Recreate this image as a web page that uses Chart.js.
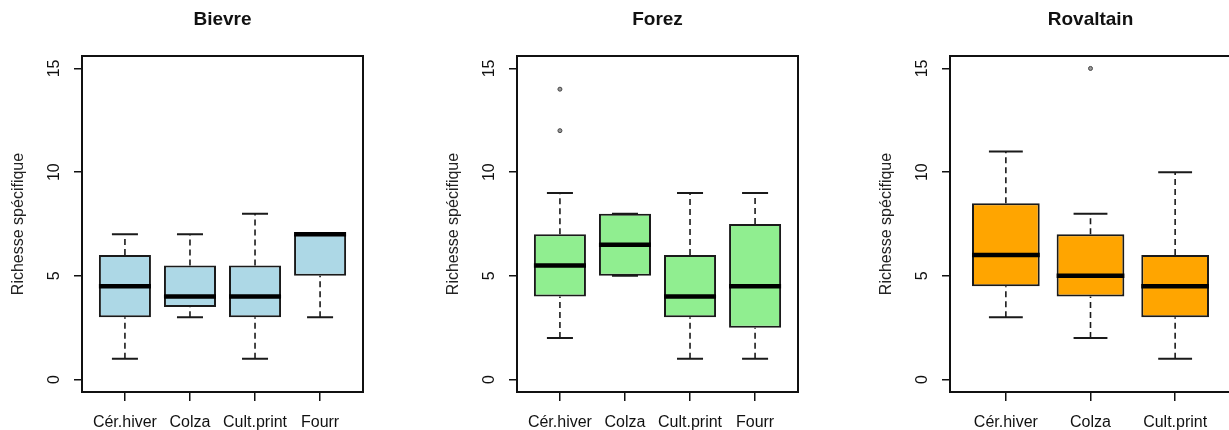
<!DOCTYPE html>
<html>
<head>
<meta charset="utf-8">
<script src="https://cdn.jsdelivr.net/npm/chart.js@4"></script>
<style>
  body { margin: 0; background: #fff; overflow: hidden; width: 1229px; height: 430px; position: relative; }
  canvas { position: absolute; top: 0; }
</style>
</head>
<body>
<canvas id="bievre" width="410" height="430" style="left:0px"></canvas>
<canvas id="forez" width="410" height="430" style="left:435px"></canvas>
<canvas id="rovaltain" width="410" height="430" style="left:868px"></canvas>
<script>
// categories shown on each panel
var bievreCats = ['Cér.hiver', 'Colza', 'Cult.print', 'Fourr'];
var forezCats = ['Cér.hiver', 'Colza', 'Cult.print', 'Fourr'];
var rovaltainCats = ['Cér.hiver', 'Colza', 'Cult.print'];
var yTicks = [0, 5, 10, 15];

// each row: [low whisker, Q1, median, Q3, high whisker]
var bievreStats = [[1, 3, 4.5, 6, 7], [3, 3.5, 4, 5.5, 7], [1, 3, 4, 5.5, 8], [3, 5, 7, 7, 7]];
var forezStats = [[2, 4, 5.5, 7, 9], [5, 5, 6.5, 8, 8], [1, 3, 4, 6, 9], [1, 2.5, 4.5, 7.5, 9]];
var rovaltainStats = [[3, 4.5, 6, 8.5, 11], [2, 4, 5, 7, 8], [1, 3, 4.5, 6, 10]];

// outliers: [category number, value]
var bievreOutliers = [];
var forezOutliers = [[1, 12], [1, 14]];
var rovaltainOutliers = [[2, 15]];

Chart.defaults.font.family = '"Liberation Sans", Arial, sans-serif';
Chart.defaults.color = '#111';

// title centred over the plot box, rotated y labels and the frame
var rPlot = {
    id: 'rPlot',
    afterDraw: function(chart, args, opts) {
        var ctx = chart.ctx, a = chart.chartArea, y = chart.scales.y;
        ctx.save();
        ctx.fillStyle = '#111';
        ctx.font = 'bold 19px "Liberation Sans", Arial, sans-serif';
        ctx.textAlign = 'center';
        ctx.textBaseline = 'middle';
        ctx.fillText(opts.title, (a.left + a.right) / 2, 20);

        ctx.font = '16px "Liberation Sans", Arial, sans-serif';
        yTicks.forEach(function(v) {
            ctx.save();
            ctx.translate(55, y.getPixelForValue(v));
            ctx.rotate(-Math.PI / 2);
            ctx.fillText(String(v), 0, 0);
            ctx.restore();
        });

        ctx.strokeStyle = '#111';
        ctx.lineWidth = 2;
        ctx.strokeRect(a.left, a.top, a.right - a.left, a.bottom - a.top);
        ctx.restore();
    }
};

function makeBoxplot(id, title, cats, stats, outliers, color) {
    var boxes = [], whiskers = [], caps = [], medians = [];
    stats.forEach(function(s, i) {
        var x = i + 1;
        boxes.push({x: x, y: [s[1], s[3]]});
        whiskers.push({x: x, y: s[0]}, {x: x, y: s[1]}, {x: x, y: null},
                      {x: x, y: s[3]}, {x: x, y: s[4]}, {x: x, y: null});
        caps.push({x: x - 0.2, y: s[0]}, {x: x + 0.2, y: s[0]}, {x: x, y: null},
                  {x: x - 0.2, y: s[4]}, {x: x + 0.2, y: s[4]}, {x: x, y: null});
        medians.push({x: x - 0.4, y: s[2]}, {x: x + 0.4, y: s[2]}, {x: x, y: null});
    });
    var points = outliers.map(function(o) { return {x: o[0], y: o[1]}; });

    new Chart(document.getElementById(id), {
        type: 'bar',
        data: {
            datasets: [{
                type: 'bar',
                data: boxes,
                backgroundColor: color,
                borderColor: '#1a1a1a',
                borderWidth: 2,
                borderSkipped: false,
                barPercentage: 1,
                categoryPercentage: 0.8,
                order: 2
            }, {
                type: 'line',
                data: whiskers,
                borderColor: '#1a1a1a',
                borderWidth: 1.6,
                borderDash: [6, 4],
                pointRadius: 0,
                spanGaps: false,
                order: 3
            }, {
                type: 'line',
                data: caps,
                borderColor: '#1a1a1a',
                borderWidth: 2,
                pointRadius: 0,
                spanGaps: false,
                order: 3
            }, {
                type: 'line',
                data: medians,
                borderColor: '#000',
                borderWidth: 4.5,
                borderCapStyle: 'butt',
                pointRadius: 0,
                spanGaps: false,
                order: 0
            }, {
                type: 'scatter',
                data: points,
                pointRadius: 2,
                backgroundColor: '#999',
                borderColor: '#444',
                borderWidth: 1,
                order: 1
            }]
        },
        options: {
            responsive: false,
            animation: false,
            events: [],
            layout: { padding: { top: 56, right: 47, left: 0, bottom: 0 } },
            plugins: {
                legend: { display: false },
                tooltip: { enabled: false },
                rPlot: { title: title }
            },
            scales: {
                x: {
                    type: 'linear',
                    min: 0.34,
                    max: cats.length + 0.66,
                    offset: false,
                    grid: { drawOnChartArea: false, offset: false, color: '#111', tickLength: 9, lineWidth: 1.5 },
                    border: { display: false },
                    afterBuildTicks: function(s) {
                        s.ticks = cats.map(function(c, i) { return {value: i + 1}; });
                    },
                    afterFit: function(s) { s.height = 38; },
                    ticks: {
                        autoSkip: false,
                        maxRotation: 0,
                        minRotation: 0,
                        padding: 12,
                        color: '#111',
                        font: { size: 16 },
                        callback: function(v) { return cats[v - 1]; }
                    }
                },
                y: {
                    min: -0.6,
                    max: 15.6,
                    grid: { drawOnChartArea: false, color: '#111', tickLength: 8, lineWidth: 1.5 },
                    border: { display: false },
                    afterBuildTicks: function(s) {
                        s.ticks = yTicks.map(function(v) { return {value: v}; });
                    },
                    afterFit: function(s) { s.width = 82; },
                    ticks: { display: false },
                    title: {
                        display: true,
                        text: 'Richesse spécifique',
                        color: '#222',
                        font: { size: 16 },
                        padding: { top: 9, bottom: 0 }
                    }
                }
            }
        },
        plugins: [rPlot]
    });
}

makeBoxplot('bievre', 'Bievre', bievreCats, bievreStats, bievreOutliers, '#add8e6');
makeBoxplot('forez', 'Forez', forezCats, forezStats, forezOutliers, '#90ee90');
makeBoxplot('rovaltain', 'Rovaltain', rovaltainCats, rovaltainStats, rovaltainOutliers, '#ffa500');
</script>
</body>
</html>
